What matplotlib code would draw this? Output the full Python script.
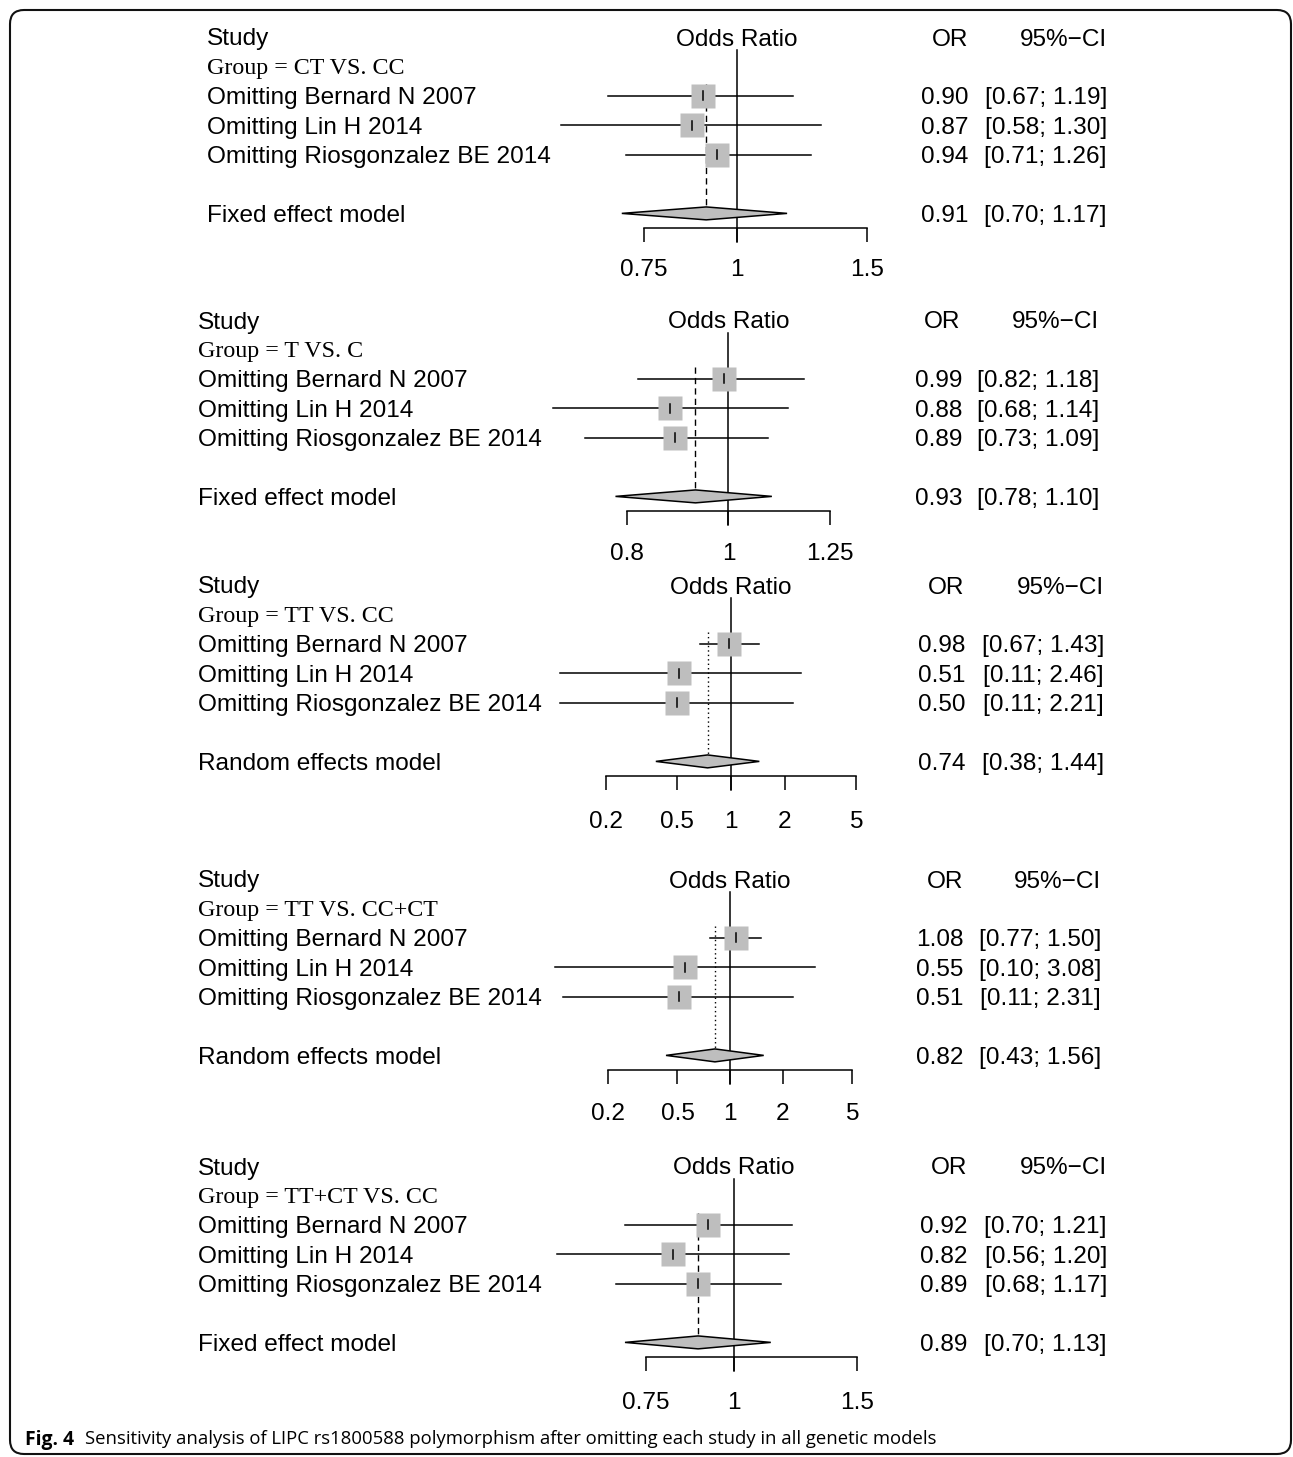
import matplotlib
matplotlib.use("Agg")
import matplotlib.pyplot as plt
from matplotlib.patches import FancyBboxPatch
from matplotlib.ticker import NullLocator
from matplotlib.transforms import blended_transform_factory, IdentityTransform

W, H, DPI = 1293, 1457, 100
plt.rcParams["font.family"] = ["Liberation Sans", "DejaVu Sans"]

# ---- data ----
studies = ["Omitting Bernard N 2007", "Omitting Lin H 2014", "Omitting Riosgonzalez BE 2014"]
groups = ["CT VS. CC", "T VS. C", "TT VS. CC", "TT VS. CC+CT", "TT+CT VS. CC"]
models = ["Fixed effect model", "Fixed effect model", "Random effects model",
          "Random effects model", "Fixed effect model"]
random_model = [False, False, True, True, False]

or_est = [[0.90, 0.87, 0.94], [0.99, 0.88, 0.89], [0.98, 0.51, 0.50],
          [1.08, 0.55, 0.51], [0.92, 0.82, 0.89]]
ci_lo = [[0.67, 0.58, 0.71], [0.82, 0.68, 0.73], [0.67, 0.11, 0.11],
         [0.77, 0.10, 0.11], [0.70, 0.56, 0.68]]
ci_hi = [[1.19, 1.30, 1.26], [1.18, 1.14, 1.09], [1.43, 2.46, 2.21],
         [1.50, 3.08, 2.31], [1.21, 1.20, 1.17]]
pooled_est = [0.91, 0.93, 0.74, 0.82, 0.89]
pooled_lo = [0.70, 0.78, 0.38, 0.43, 0.70]
pooled_hi = [1.17, 1.10, 1.44, 1.56, 1.13]

tick_vals = [[0.75, 1, 1.5], [0.8, 1, 1.25], [0.2, 0.5, 1, 2, 5],
             [0.2, 0.5, 1, 2, 5], [0.75, 1, 1.5]]
tick_labels = [["0.75", "1", "1.5"], ["0.8", "1", "1.25"], ["0.2", "0.5", "1", "2", "5"],
               ["0.2", "0.5", "1", "2", "5"], ["0.75", "1", "1.5"]]

caption_bold = "Fig. 4"
caption_text = ("Sensitivity analysis of LIPC rs1800588 polymorphism after omitting "
                "each study in all genetic models")

# ---- layout (pixels) ----
panel_top = [37, 320, 585, 879, 1166]
axis_left = [644, 627, 606, 608, 646]
axis_right = [867, 830, 856, 852, 857]
label_x = [207, 198, 198, 198, 198]
or_x = [921, 915, 918, 916, 920]
ci_x = [1107, 1099, 1104, 1101, 1107]
orhead_x = [950, 942, 946, 945, 949]
tick_pad = [12, 13, 15, 14, 15]
pitch = 29.4
fs = 17.6
gray = "#bebebe"

fig = plt.figure(figsize=(W / DPI, H / DPI), dpi=DPI)

for i in range(5):
    top = panel_top[i]
    y0 = top - 0.5 * pitch
    y1 = top + 8.5 * pitch
    ax = fig.add_axes([axis_left[i] / W, 1 - y1 / H,
                       (axis_right[i] - axis_left[i]) / W, (y1 - y0) / H])
    ax.set_xscale("log")
    ax.set_xlim(tick_vals[i][0], tick_vals[i][-1])
    ax.set_ylim(8.5, -0.5)
    ax.patch.set_visible(False)
    for s in ["top", "right", "left"]:
        ax.spines[s].set_visible(False)
    ax.spines["bottom"].set_position(("data", 6.5))
    ax.spines["bottom"].set_linewidth(1.1)
    ax.set_xticks(tick_vals[i])
    ax.set_xticklabels(tick_labels[i])
    ax.xaxis.set_minor_locator(NullLocator())
    ax.tick_params(axis="x", length=10, width=1.1, pad=tick_pad[i], labelsize=fs)
    ax.set_yticks([])

    tx = blended_transform_factory(fig.transFigure, ax.transData)
    ax.text(label_x[i] / W, 0, "Study", transform=tx, fontsize=fs, va="center_baseline")
    ax.text(label_x[i] / W, 1, "Group = " + groups[i], transform=tx, fontsize=17.3,
            family="Liberation Serif", va="center_baseline")
    ax.text(1, 0, "Odds Ratio", fontsize=fs, ha="center", va="center_baseline")
    ax.text(orhead_x[i] / W, 0, "OR", transform=tx, fontsize=fs, ha="center",
            va="center_baseline")
    ax.text(ci_x[i] / W, 0, "95%\u2212CI", transform=tx, fontsize=fs, ha="right",
            va="center_baseline")

    # reference line at OR = 1
    ax.plot([1, 1], [0.45, 6.98], color="black", lw=1.1, clip_on=False)

    rows = [2, 3, 4]
    for k, r in enumerate(rows):
        ax.plot([ci_lo[i][k], ci_hi[i][k]], [r, r], color="black", lw=1.1, clip_on=False,
                zorder=2)
        ax.plot(or_est[i][k], r, marker="s", ms=16.6, mfc=gray, mec="none", ls="none",
                zorder=3, clip_on=False)
        ax.plot([or_est[i][k], or_est[i][k]], [r - 0.15, r + 0.15], color="black",
                lw=1.1, zorder=4)
        ax.text(label_x[i] / W, r, studies[k], transform=tx, fontsize=fs,
                va="center_baseline")
        ax.text(or_x[i] / W, r, f"{or_est[i][k]:.2f}", transform=tx, fontsize=fs,
                va="center_baseline")
        ax.text(ci_x[i] / W, r, f"[{ci_lo[i][k]:.2f}; {ci_hi[i][k]:.2f}]", transform=tx,
                fontsize=fs, ha="right", va="center_baseline")

    # pooled estimate
    pe, pl, ph = pooled_est[i], pooled_lo[i], pooled_hi[i]
    ls = (0, (1, 2.2)) if random_model[i] else (0, (4.5, 3))
    ax.plot([pe, pe], [1.6, 5.78], color="black", lw=1.0, ls=ls, zorder=1)
    ax.fill([pl, pe, ph, pe], [6, 5.78, 6, 6.22], facecolor=gray, edgecolor="black",
            lw=1.1, zorder=5, clip_on=False)
    ax.text(label_x[i] / W, 6, models[i], transform=tx, fontsize=fs, va="center_baseline")
    ax.text(or_x[i] / W, 6, f"{pe:.2f}", transform=tx, fontsize=fs, va="center_baseline")
    ax.text(ci_x[i] / W, 6, f"[{pl:.2f}; {ph:.2f}]", transform=tx, fontsize=fs,
            ha="right", va="center_baseline")

# caption
renderer = fig.canvas.get_renderer()
cy = 1 - 1437 / H
t1 = fig.text(25 / W, cy, caption_bold, fontsize=16, weight="bold", family="Open Sans",
              va="center_baseline")
t2 = fig.text(85 / W, cy, caption_text, fontsize=16, family="Open Sans",
              va="center_baseline")
wid = t2.get_window_extent(renderer).width
cap_fs = min(16 * 851 / wid, 16)
t2.set_fontsize(cap_fs)
t1.set_fontsize(cap_fs * 1.05)

# rounded frame
frame = FancyBboxPatch((10, 3), 1281, 1444, boxstyle="round,pad=0,rounding_size=14",
                       transform=IdentityTransform(), fill=False, ec="#111111", lw=1.5)
fig.add_artist(frame)

fig.savefig("out.png", dpi=DPI)
